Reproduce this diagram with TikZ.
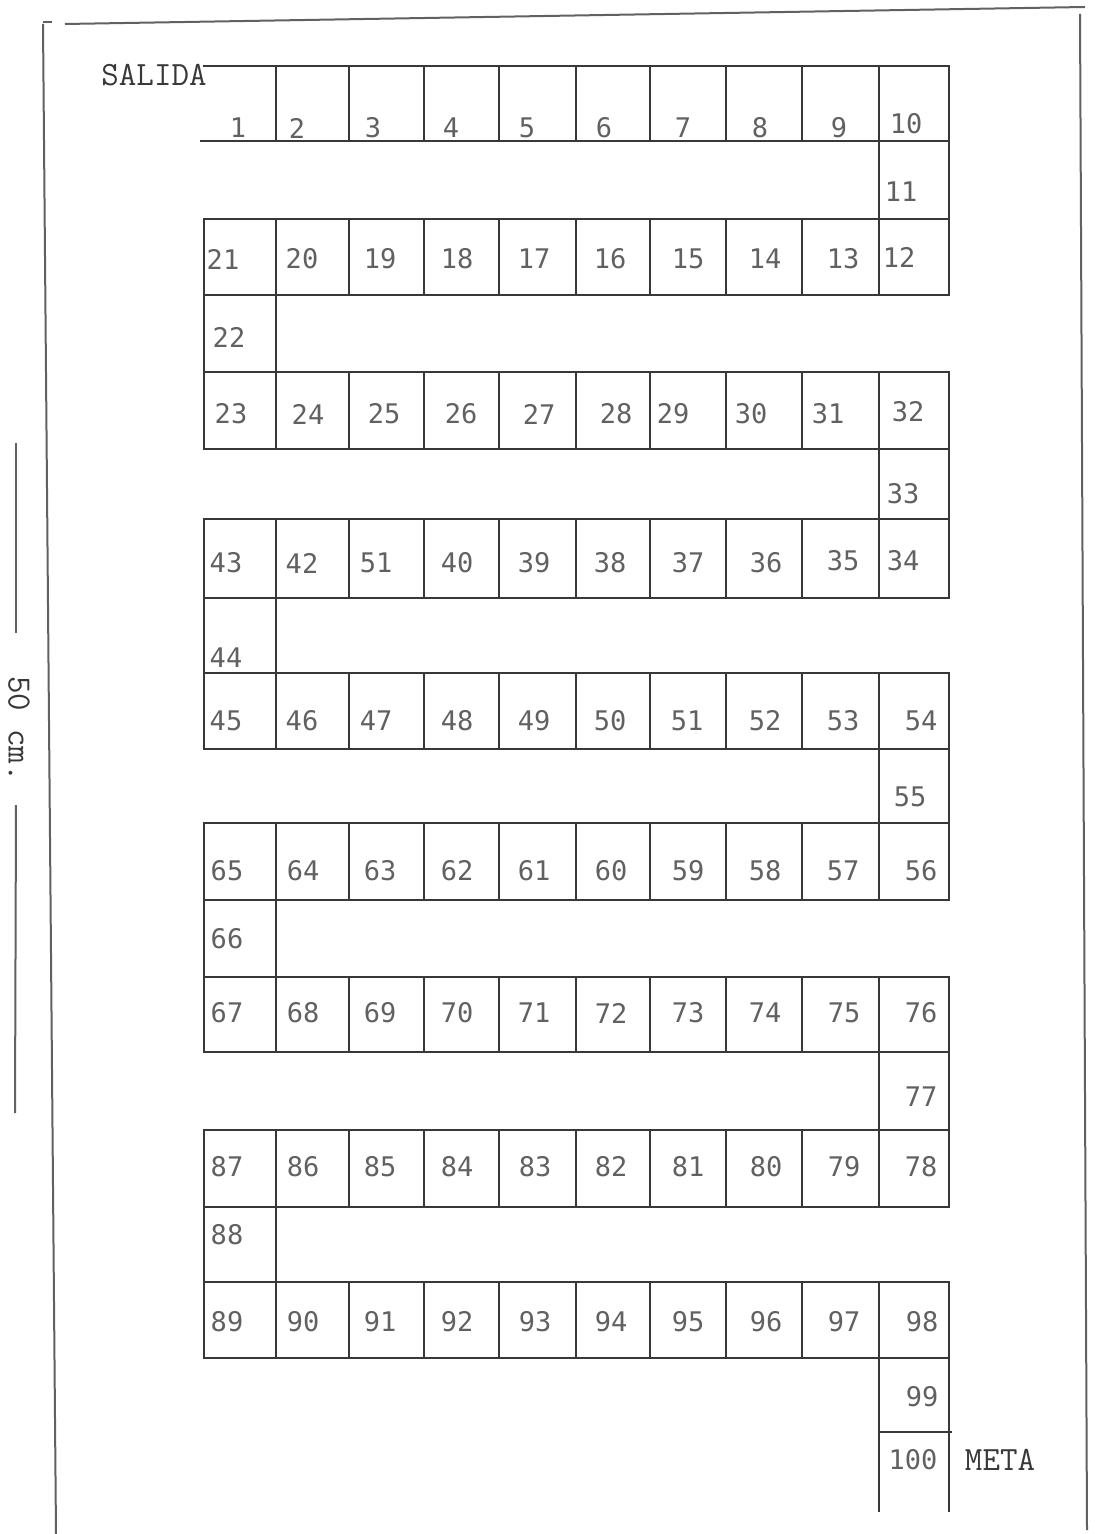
\documentclass[tikz,border=0pt]{standalone}
\usepackage{fontspec}
\newfontfamily\numfont{DejaVu Sans Mono}
\begin{document}
\begin{tikzpicture}[x=0.5pt,y=-0.5pt,
		casilla/.style={draw=black!78,line width=1.2pt},
		marco/.style={draw=black!62,line width=1pt},
		num/.style={text=black!62,inner sep=0pt,font=\numfont\fontsize{13.5}{14}\selectfont},
		rotulo/.style={text=black!78,inner sep=0pt,font=\ttfamily\fontsize{17}{18}\selectfont}]
		\useasboundingbox (0,0) rectangle (1094,1534);
		% marco de la hoja
		\draw[marco] (43,22)--(52,22);
		\draw[marco] (65,24)--(1085,7);
		\draw[marco] (43,24)--(56,1534);
		\draw[marco] (1080,14)--(1087,1530);
		% escala
		\node[rotulo,rotate=-90] (escala) at (19,729) {50 cm.};
		\coordinate (escalaA) at (16,443);
		\coordinate (escalaB) at (15,1113);
		\draw[marco] (escalaA)--(16,633);
		\draw[marco] (16,805)--(escalaB);
		% primera fila, abierta a la izquierda
		\draw[casilla] (203,66)--(949,66)--(949,141)--(200,141);
		\foreach \x in {276,349,424,499,576,650,726,802,879}
		\draw[casilla] (\x,66)--(\x,141);
		% filas completas
		\foreach \a/\b in {219/295,372/449,519/598,673/749,823/900,977/1052,1130/1207,1282/1358}
		{
			\draw[casilla] (204,\a) rectangle (949,\b);
			\foreach \x in {276,349,424,499,576,650,726,802,879}
			\draw[casilla] (\x,\a)--(\x,\b);
		}
		% casillas de paso
		\foreach \a/\b in {141/219,449/519,749/823,1052/1130,1358/1432}
		\draw[casilla] (879,\a) rectangle (949,\b);
		\foreach \a/\b in {295/372,598/673,900/977,1207/1282}
		\draw[casilla] (204,\a) rectangle (276,\b);
		\draw[casilla] (879,1512)--(879,1432)--(952,1432);
		\draw[casilla] (949,1432)--(949,1512);
		% numeros
		\foreach \px/\py/\t [count=\k] in {
			238/128/1,297/128/2,373/128/3,451/128/4,527/128/5,604/128/6,683/128/7,760/128/8,839/128/9,906/124/10,
			901/192/11,899/257/12,843/259/13,765/259/14,688/259/15,610/259/16,534/259/17,457/259/18,380/259/19,302/259/20,
			223/259/21,229/337/22,231/414/23,308/414/24,384/414/25,461/414/26,539/414/27,616/414/28,673/414/29,751/414/30,
			828/414/31,908/412/32,903/494/33,903/561/34,843/561/35,766/563/36,688/563/37,610/563/38,534/563/39,457/563/40,
			376/563/51,302/563/42,226/563/43,226/658/44,226/721/45,302/721/46,376/721/47,457/721/48,534/721/49,610/721/50,
			687/721/51,765/721/52,843/721/53,921/721/54,910/797/55,921/871/56,843/871/57,765/871/58,688/871/59,611/871/60,
			534/871/61,457/871/62,380/871/63,303/871/64,227/871/65,227/939/66,227/1013/67,303/1013/68,380/1013/69,457/1013/70,
			534/1013/71,611/1013/72,688/1013/73,765/1013/74,844/1013/75,921/1013/76,921/1097/77,921/1167/78,844/1167/79,766/1167/80,
			688/1167/81,611/1167/82,535/1167/83,457/1167/84,380/1167/85,303/1167/86,227/1167/87,227/1235/88,227/1322/89,303/1322/90,
			380/1322/91,457/1322/92,535/1322/93,611/1322/94,688/1322/95,766/1322/96,844/1322/97,922/1322/98,922/1397/99,913/1460/100}
		\node[num] (c\k) at (\px,\py) {\t};
		\node[rotulo] (salida) at (154,75) {SALIDA};
		\node[rotulo] (meta) at (1000,1460) {META};
	\end{tikzpicture}
\end{document}
